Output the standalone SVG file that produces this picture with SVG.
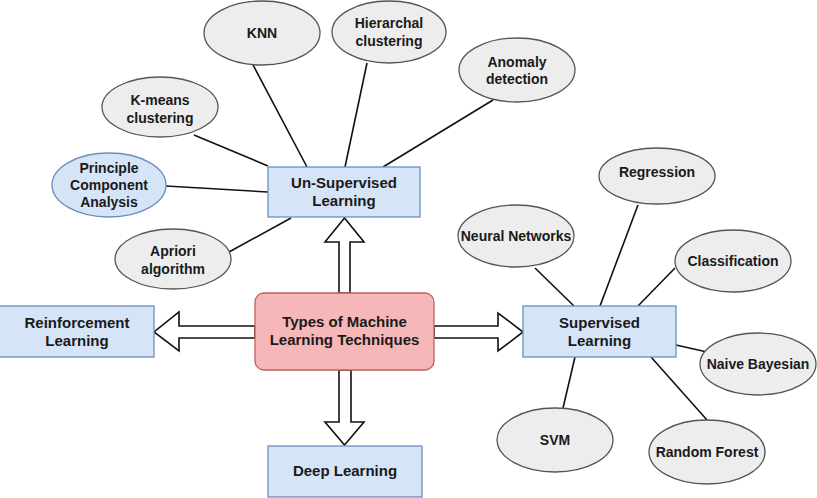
<svg xmlns="http://www.w3.org/2000/svg" width="817" height="498" viewBox="0 0 817 498">
<style>
text{font-family:"Liberation Sans",Arial,sans-serif;font-weight:bold;fill:#1a1a1a;text-anchor:middle}
.e{fill:#ededed;stroke:#555;stroke-width:1.3}
.eb{fill:#d6e4f8;stroke:#6c8ebf;stroke-width:1.3}
.b{fill:#d6e4f8;stroke:#6c8ebf;stroke-width:1.3}
.c{fill:#f5b7b7;stroke:#c0605c;stroke-width:1.3}
.et{font-size:14px}
.bt{font-size:15px}
.l{stroke:#111;stroke-width:1.6;fill:none}
.a{fill:#fff;stroke:#111;stroke-width:1.6;stroke-linejoin:miter}
</style>
<rect width="817" height="498" fill="#fff"/>
<g id="connectors">
<line class="l" x1="252" y1="63" x2="307" y2="167"/>
<line class="l" x1="367" y1="63" x2="345" y2="167"/>
<line class="l" x1="493" y1="100" x2="383" y2="167"/>
<line class="l" x1="194" y1="135" x2="268" y2="166"/>
<line class="l" x1="166" y1="186" x2="268" y2="192"/>
<line class="l" x1="229" y1="252" x2="291" y2="218"/>
<line class="l" x1="535" y1="268" x2="574" y2="306"/>
<line class="l" x1="638" y1="205" x2="600" y2="306"/>
<line class="l" x1="675" y1="268" x2="638" y2="306"/>
<line class="l" x1="676" y1="345" x2="707" y2="352"/>
<line class="l" x1="651" y1="357" x2="707" y2="420"/>
<line class="l" x1="575" y1="357" x2="563" y2="408"/>
<polygon class="a" points="339,293 339,242 325,242 344.5,218 364,242 350,242 350,293"/>
<polygon class="a" points="339,370 339,422 325,422 344.5,445 364,422 351,422 351,370"/>
<polygon class="a" points="255,326 179,326 179,312 154,332 179,351 179,338 255,338"/>
<polygon class="a" points="434,326 498,326 498,313 523,332 498,351 498,338 434,338"/>
</g>
<g id="types"><rect class="c" x="255" y="293" width="179" height="77" rx="9"/><text class="bt" x="344.5" y="327">Types of Machine</text><text class="bt" x="344.5" y="345">Learning Techniques</text></g>
<g id="unsupervised"><rect class="b" x="268" y="167" width="152" height="50"/><text class="bt" x="344" y="188">Un-Supervised</text><text class="bt" x="344" y="206">Learning</text></g>
<g id="supervised"><rect class="b" x="523" y="306" width="153" height="51"/><text class="bt" x="599.5" y="328">Supervised</text><text class="bt" x="599.5" y="346">Learning</text></g>
<g id="reinforcement"><rect class="b" x="-2" y="306" width="156" height="51"/><text class="bt" x="77" y="328">Reinforcement</text><text class="bt" x="77" y="346">Learning</text></g>
<g id="deep"><rect class="b" x="268" y="446" width="154" height="51"/><text class="bt" x="345" y="476">Deep Learning</text></g>
<g id="knn"><ellipse class="e" cx="262" cy="33" rx="58" ry="32"/><text class="et" x="262" y="38">KNN</text></g>
<g id="hierarchal"><ellipse class="e" cx="389" cy="32" rx="57" ry="31"/><text class="et" x="389" y="28">Hierarchal</text><text class="et" x="389" y="46">clustering</text></g>
<g id="anomaly"><ellipse class="e" cx="517" cy="70" rx="58" ry="32"/><text class="et" x="517" y="67">Anomaly</text><text class="et" x="517" y="84">detection</text></g>
<g id="kmeans"><ellipse class="e" cx="160" cy="107" rx="58" ry="30"/><text class="et" x="160" y="105">K-means</text><text class="et" x="160" y="123">clustering</text></g>
<g id="pca"><ellipse class="eb" cx="109" cy="185" rx="57" ry="32"/><text class="et" x="109" y="173">Principle</text><text class="et" x="109" y="190">Component</text><text class="et" x="109" y="207">Analysis</text></g>
<g id="apriori"><ellipse class="e" cx="173" cy="259" rx="58" ry="30"/><text class="et" x="173" y="256">Apriori</text><text class="et" x="173" y="274">algorithm</text></g>
<g id="regression"><ellipse class="e" cx="657" cy="176" rx="58" ry="28"/><text class="et" x="657" y="177">Regression</text></g>
<g id="neural"><ellipse class="e" cx="516" cy="236" rx="58" ry="31"/><text class="et" x="516" y="241">Neural Networks</text></g>
<g id="classification"><ellipse class="e" cx="733" cy="261" rx="58" ry="31"/><text class="et" x="733" y="266">Classification</text></g>
<g id="naive"><ellipse class="e" cx="758" cy="364" rx="58" ry="31"/><text class="et" x="758" y="369">Naive Bayesian</text></g>
<g id="svm"><ellipse class="e" cx="555" cy="440" rx="58" ry="32"/><text class="et" x="555" y="445">SVM</text></g>
<g id="randomforest"><ellipse class="e" cx="707" cy="452" rx="58" ry="32"/><text class="et" x="707" y="457">Random Forest</text></g>
</svg>
